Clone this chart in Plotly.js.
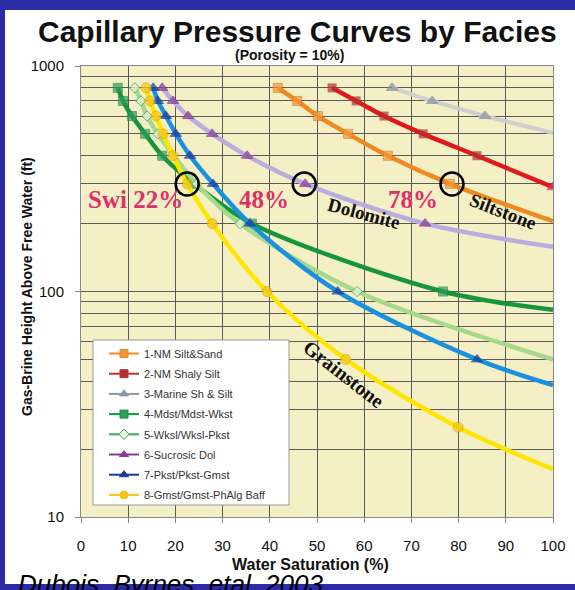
<!DOCTYPE html>
<html>
<head>
<meta charset="utf-8">
<script src="https://cdn.plot.ly/plotly-3.0.1.min.js"></script>
<style>
html,body{margin:0;padding:0;background:#ffffff;}
#chart{width:575px;height:590px;}
</style>
</head>
<body>
<div id="chart"></div>
<script>
// ---- data ----
const names = ["1-NM Silt&Sand","2-NM Shaly Silt","3-Marine Sh & Silt","4-Mdst/Mdst-Wkst",
               "5-Wksl/Wksl-Pkst","6-Sucrosic Dol","7-Pkst/Pkst-Gmst","8-Gmst/Gmst-PhAlg Baff"];

const sw1 = [41.7,45.8,50.2,56.6,65.0,78.2,100];
const h1  = [800,700,600,500,400,300,205];
const sw2 = [53.2,58.3,64.2,72.5,83.9,100];
const h2  = [800,700,600,500,400,290];
const sw3 = [65.9,74.4,85.6,100];
const h3  = [800,700,600,505];
const sw4 = [7.8,8.9,10.8,13.6,17.2,24.0,36.2,76.7,100];
const h4  = [800,700,600,500,400,300,200,100,83];
const sw5 = [11.4,12.7,14.0,16.3,24.5,33.7,58.5,100];
const h5  = [800,700,600,500,300,200,100,50];
const sw6 = [17.2,19.5,22.7,27.8,35.2,47.5,72.9,100];
const h6  = [800,700,600,500,400,300,200,158];
const sw7 = [15.3,16.3,18.0,20.1,23.1,28.0,35.8,54.4,83.9,100];
const h7  = [800,700,600,500,400,300,200,100,50,38.5];
const sw8 = [13.8,14.6,15.9,17.4,19.5,22.5,27.8,39.4,56.1,79.9,100];
const h8  = [800,700,600,500,400,300,200,100,50,25,16.3];

const swiX = [22.5,47.3,78.6];
const swiY = [300,300,300];
const swiLabels = ["Swi 22%","48%","78%"];

const xTicks = [0,10,20,30,40,50,60,70,80,90,100];
const yMajor = [10,100,1000];
const yMinor = [20,30,40,50,60,70,80,90,200,300,400,500,600,700,800,900];

// ---- styling helpers ----
function markerSizes(n, s){ const a = []; for(let i=0;i<n;i++) a.push(i===n-1?0:s); return a; }

const traces = [];
function curve(x, y, lineColor, sym, mColor, mLine, size, lw){
  traces.push({
    x:x, y:y, type:'scatter', mode:'lines+markers', showlegend:false, hoverinfo:'skip',
    line:{color:lineColor, width:lw, shape:'spline', smoothing:0.9},
    marker:{symbol:sym, color:mColor, size: markerSizes(x.length,size),
            line:{color:mLine, width:1}}
  });
}
// draw order bottom -> top
curve(sw3,h3,'#cfcfcf','triangle-up','#8a96a8','#7a8698',10,4);
// red: last point crimson triangle
traces.push({
  x:sw2, y:h2, type:'scatter', mode:'lines+markers', showlegend:false, hoverinfo:'skip',
  line:{color:'#e01a1a', width:4.5, shape:'spline', smoothing:0.9},
  marker:{symbol:sw2.map((v,i)=>i===sw2.length-1?'triangle-up':'square'),
          color:sw2.map((v,i)=>i===sw2.length-1?'#e0306a':'#b03030'),
          size:sw2.map((v,i)=>i===sw2.length-1?12:9), line:{width:0}}
});
curve(sw1,h1,'#f08a1e','square','#f0963c','#e07a20',9,4.5);
curve(sw6,h6,'#b9addf','triangle-up','#8a3a98','#7a2a88',10,4.5);
curve(sw4,h4,'#15963a','square','#2e9e5a','#1e8e4a',9,4.5);
curve(sw5,h5,'#a6d98a','diamond','#e8f4dc','#2e9e5a',8,4.5);
curve(sw7,h7,'#1a90e0','triangle-up','#1a3a9a','#1a3a9a',10,4.5);
curve(sw8,h8,'#ffe600','circle','#f2c418','#e0a800',10,4.5);

// Swi circles
traces.push({x:swiX, y:swiY, type:'scatter', mode:'markers', showlegend:false, hoverinfo:'skip',
  marker:{symbol:'circle-open', size:23, color:'#000', line:{color:'#000', width:2.5}}});

// legend-only entries (legend colours differ from the drawn lines)
const legendStyles = [
  ['#f08a1e','square','#f0963c'],
  ['#c03030','square','#b03030'],
  ['#8a96a8','triangle-up','#8a96a8'],
  ['#15963a','square','#2e9e5a'],
  ['#3aa85a','diamond','#e8f4dc'],
  ['#8a3a98','triangle-up','#8a3a98'],
  ['#1a3a9a','triangle-up','#1a3a9a'],
  ['#f2c418','circle','#f2c418']
];
names.forEach((n,i)=>{
  traces.push({x:[null], y:[null], type:'scatter', mode:'lines+markers', name:n, hoverinfo:'skip',
    legendgroup:'g'+i,
    line:{color:legendStyles[i][0], width:2},
    marker:{symbol:legendStyles[i][1], color:legendStyles[i][2], size:8,
            line:{color:legendStyles[i][0], width:1}}});
});

const px = v => (v-81)/472;      // pixel -> paper x
const py = v => (517-v)/451;     // pixel -> paper y
const blue = '#2b2ba6';

const serif = 'Liberation Serif, Times New Roman, serif';
const sans = 'Liberation Sans, Arial, sans-serif';

const annotations = [
  {xref:'paper',yref:'paper',x:px(297),y:py(32),xanchor:'center',yanchor:'middle',showarrow:false,
   text:'<b>Capillary Pressure Curves by Facies</b>',font:{family:sans,size:30,color:'#111'}},
  {xref:'paper',yref:'paper',x:px(289),y:py(55),xanchor:'center',yanchor:'middle',showarrow:false,
   text:'<b>(Porosity = 10%)</b>',font:{family:sans,size:14,color:'#111'}},
  {xref:'paper',yref:'paper',x:px(310),y:py(564),xanchor:'center',yanchor:'middle',showarrow:false,
   text:'<b>Water Saturation (%)</b>',font:{family:sans,size:16,color:'#111'}},
  {xref:'paper',yref:'paper',x:px(27),y:py(287),xanchor:'center',yanchor:'middle',showarrow:false,textangle:-90,
   text:'<b>Gas-Brine Height Above Free Water (ft)</b>',font:{family:sans,size:14,color:'#111'}},
  {xref:'paper',yref:'paper',x:px(16),y:py(584),xanchor:'left',yanchor:'middle',showarrow:false,
   text:'<i>Dubois, Byrnes, etal, 2003</i>',font:{family:sans,size:26,color:'#000'}},
  {x:11.5,y:Math.log10(257),showarrow:false,text:'<b>'+swiLabels[0]+'</b>',font:{family:serif,size:25,color:'#e0306a'}},
  {x:38.8,y:Math.log10(257),showarrow:false,text:'<b>'+swiLabels[1]+'</b>',font:{family:serif,size:25,color:'#e0306a'}},
  {x:70.3,y:Math.log10(257),showarrow:false,text:'<b>'+swiLabels[2]+'</b>',font:{family:serif,size:25,color:'#e0306a'}},
  {x:60,y:2.348,showarrow:false,textangle:15,text:'<b>Dolomite</b>',font:{family:serif,size:19,color:'#111'}},
  {x:89.4,y:2.353,showarrow:false,textangle:21,text:'<b>Siltstone</b>',font:{family:serif,size:19,color:'#111'}},
  {x:55.7,y:1.634,showarrow:false,textangle:38,text:'<b>Grainstone</b>',font:{family:serif,size:20,color:'#111'}}
];

const shapes = [
  {type:'rect',xref:'paper',yref:'paper',x0:-0.3,x1:1.2,y0:py(10),y1:py(-10),fillcolor:blue,line:{width:0},layer:'below'},
  {type:'rect',xref:'paper',yref:'paper',x0:-0.3,x1:px(5),y0:-0.3,y1:1.3,fillcolor:blue,line:{width:0},layer:'below'},
  {type:'rect',xref:'paper',yref:'paper',x0:-0.3,x1:1.2,y0:py(600),y1:py(584),fillcolor:blue,line:{width:0},layer:'below'},
  // legend box frame (wider than Plotly's auto-sized legend)
  {type:'rect',xref:'paper',yref:'paper',x0:px(93),x1:px(289),y0:py(505),y1:py(340),
   fillcolor:'#ffffff',line:{color:'#999',width:1},layer:'above'}
];

const layout = {
  width:575, height:590,
  margin:{l:81, r:22, t:66, b:73},
  paper_bgcolor:'#ffffff', plot_bgcolor:'#f4efc4',
  font:{family:sans, color:'#111'},
  showlegend:true,
  legend:{x:px(104), y:py(339), xanchor:'left', yanchor:'top', bgcolor:'rgba(0,0,0,0)',
          borderwidth:0, font:{family:sans,size:11,color:'#333'},
          traceorder:'grouped', tracegroupgap:1.2, itemwidth:30},
  xaxis:{range:[0,100], tickvals:xTicks, showgrid:true, gridcolor:'#5a5a5a', gridwidth:1,
         ticks:'outside', ticklen:5, tickcolor:'#888', tickfont:{family:sans,size:15,color:'#111'},
         ticklabelstandoff:10, showline:true, linecolor:'#888', mirror:true, zeroline:false, fixedrange:true},
  yaxis:{type:'log', range:[1,3], tickvals:yMajor, ticktext:['10','100','1000'], showgrid:true,
         gridcolor:'#5a5a5a', gridwidth:1, ticks:'outside', ticklen:5, tickcolor:'#888',
         tickfont:{family:sans,size:15,color:'#111'}, ticklabelstandoff:8,
         minor:{tickvals:yMinor, showgrid:true, gridcolor:'#5a5a5a', gridwidth:1, ticks:''},
         showline:true, linecolor:'#888', mirror:true, zeroline:false, fixedrange:true},
  annotations:annotations,
  shapes:shapes
};

Plotly.newPlot('chart', traces, layout, {staticPlot:true});
</script>
</body>
</html>
